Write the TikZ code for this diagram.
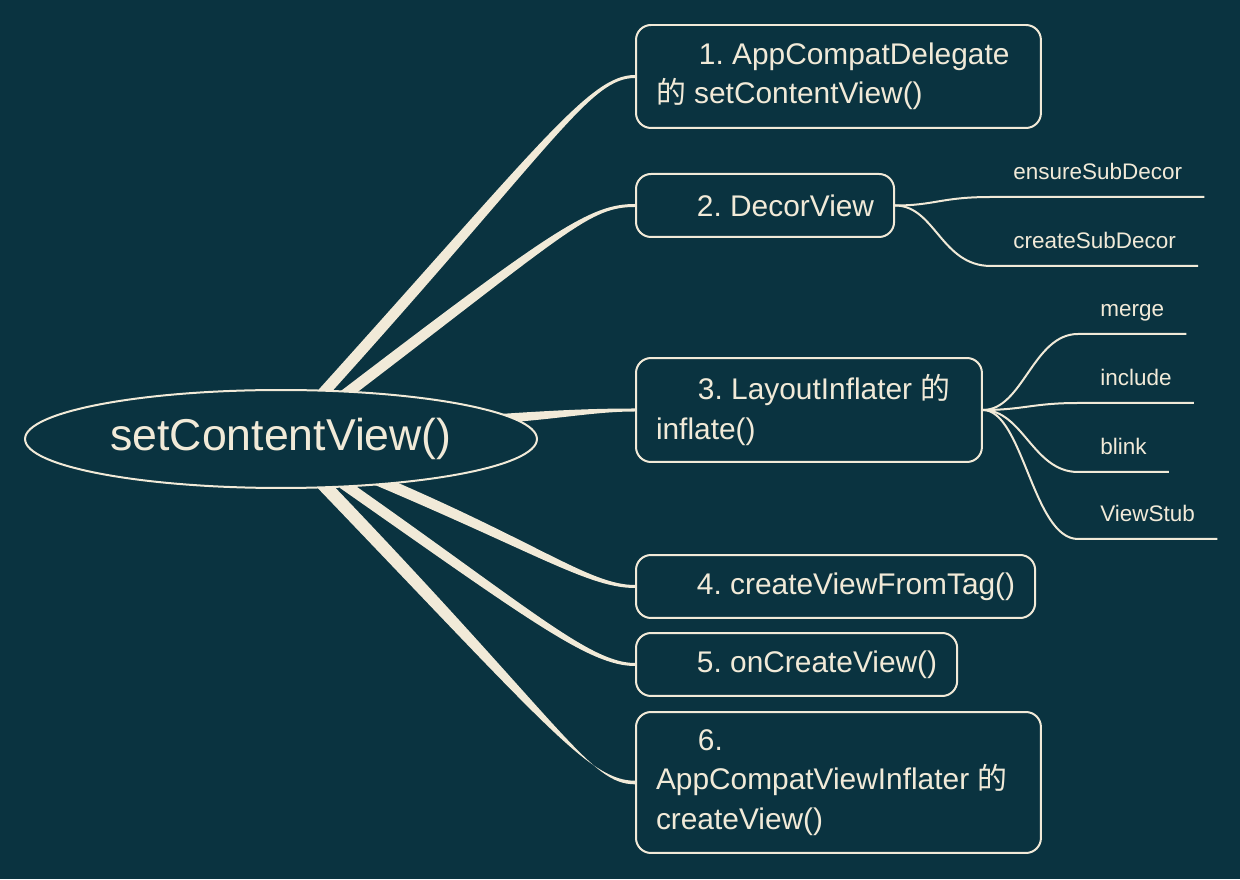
\documentclass[tikz,border=0pt]{standalone}
\usepackage{fontspec}
\setmainfont{Liberation Sans}
\newfontfamily\cjk{Noto Sans CJK SC}
\usetikzlibrary{shapes.geometric,calc}
\definecolor{bgteal}{RGB}{10,51,64}
\definecolor{cream}{RGB}{241,234,216}
\frenchspacing
\hyphenpenalty=10000

\begin{document}
\begin{tikzpicture}[
        % 全局樣式設定:1 單位 = 原圖 1 像素
        x=0.02cm, y=0.02cm,
        % 中心主題:橢圓
        root/.style={
            ellipse,
            draw=cream,
            fill=bgteal,
            line width=0.04cm,
            minimum width=10.24cm,
            minimum height=1.96cm,
            inner sep=0pt,
            text=cream,
            font=\fontsize{25.4}{30}\selectfont
        },
        % 第一層方框:圓角
        topic/.style={
            draw=cream,
            fill=bgteal,
            rounded corners=0.3cm,
            line width=0.04cm,
            inner xsep=0.4cm,
            inner ysep=4pt,
            align=flush left,
            anchor=west,
            text=cream,
            font=\fontsize{17}{22.5}\selectfont
        },
        % 主幹:錐形填充
        trunk/.style={
            fill=cream
        },
        % 第二層標籤 (文字在底線上方)
        leaf/.style={
            inner xsep=0.44cm,
            inner ysep=6.6pt,
            text height=9.5pt,
            text depth=3pt,
            anchor=south west,
            text=cream,
            font=\fontsize{12.8}{15}\selectfont
        },
        % 細支線
        twig/.style={
            draw=cream,
            line width=0.04cm
        }
    ]
        % 背景
        \useasboundingbox (0,0) rectangle (1240,879);
        \fill[bgteal] (0,0) rectangle (1240,879);

        % ==========================
        % 1. 第一層方框
        % ==========================
        \coordinate (rc) at (281,440);
        \node[topic, text width=7.3cm, minimum height=2.06cm] (b1) at (635,802.5)
            {\noindent\hspace*{0.86cm}1. AppCompatDelegate\\{\cjk 的} setContentView()};
        \node[topic, minimum height=1.26cm] (b2) at (635,673.5)
            {\hspace*{0.82cm}2. DecorView};
        \node[topic, text width=6.12cm, minimum height=2.08cm] (b3) at (635,469)
            {\noindent\hspace*{0.84cm}3. LayoutInflater {\cjk 的}\\inflate()};
        \node[topic, minimum height=1.26cm] (b4) at (635,292.5)
            {\hspace*{0.82cm}4. createViewFromTag()};
        \node[topic, minimum height=1.26cm] (b5) at (635,214.5)
            {\hspace*{0.82cm}5. onCreateView()};
        \node[topic, text width=7.3cm, minimum height=2.82cm] (b6) at (635,96.5)
            {\noindent\hspace*{0.84cm}6.\\AppCompatViewInflater {\cjk 的}\\createView()};

        % ==========================
        % 2. 主幹 (粗到細)
        % ==========================
        \fill[trunk] ($(rc)+(31,42)$) .. controls +(230,255) and +(-45,0) .. ($(b1.west)+(0,1.5)$)
            -- ($(b1.west)+(0,-1.5)$) .. controls +(-45,0) and +(230,255) .. ($(rc)+(46,42)$) -- cycle;
        \fill[trunk] ($(rc)+(52,42)$) .. controls +(220,168) and +(-45,0) .. ($(b2.west)+(0,1.5)$)
            -- ($(b2.west)+(0,-1.5)$) .. controls +(-45,0) and +(220,168) .. ($(rc)+(70,42)$) -- cycle;
        \fill[trunk] ($(rc)+(219,25)$) .. controls +(60,4) and +(-40,0) .. ($(b3.west)+(0,1.5)$)
            -- ($(b3.west)+(0,-1.5)$) .. controls +(-40,0) and +(60,4) .. ($(rc)+(219,16)$) -- cycle;
        \fill[trunk] ($(rc)+(94,-34)$) .. controls +(165,-70) and +(-45,0) .. ($(b4.west)+(0,1.5)$)
            -- ($(b4.west)+(0,-1.5)$) .. controls +(-45,0) and +(165,-70) .. ($(rc)+(94,-46)$) -- cycle;
        \fill[trunk] ($(rc)+(59,-36)$) .. controls +(190,-133) and +(-45,0) .. ($(b5.west)+(0,1.5)$)
            -- ($(b5.west)+(0,-1.5)$) .. controls +(-45,0) and +(190,-133) .. ($(rc)+(59,-49)$) -- cycle;
        \fill[trunk] ($(rc)+(28,-40)$) .. controls +(240,-250) and +(-45,0) .. ($(b6.west)+(0,1.8)$)
            -- ($(b6.west)+(0,-1.8)$) .. controls +(-45,0) and +(240,-250) .. ($(rc)+(46,-40)$) -- cycle;

        % ==========================
        % 3. 中心主題 (蓋住主幹起點)
        % ==========================
        \node[root] (root) at (rc) {setContentView()};

        % ==========================
        % 4. 第二層標籤與細支線
        % ==========================
        \node[leaf] (ensure) at (991,682) {ensureSubDecor};
        \node[leaf] (create) at (991,613) {createSubDecor};
        \draw[twig] (b2.east) .. controls +(40,0) and +(-50,0) .. (ensure.south west) -- (ensure.south east);
        \draw[twig] (b2.east) .. controls +(40,0) and +(-50,0) .. (create.south west) -- (create.south east);

        \node[leaf] (merge) at (1078,545) {merge};
        \node[leaf] (include) at (1078,476) {include};
        \node[leaf] (blink) at (1078,407) {blink};
        \node[leaf] (stub) at (1078,340) {ViewStub};
        \draw[twig] (b3.east) .. controls +(40,0) and +(-45,0) .. (merge.south west) -- (merge.south east);
        \draw[twig] (b3.east) .. controls +(40,0) and +(-45,0) .. (include.south west) -- (include.south east);
        \draw[twig] (b3.east) .. controls +(40,0) and +(-45,0) .. (blink.south west) -- (blink.south east);
        \draw[twig] (b3.east) .. controls +(40,0) and +(-45,0) .. (stub.south west) -- (stub.south east);

\end{tikzpicture}
\end{document}
